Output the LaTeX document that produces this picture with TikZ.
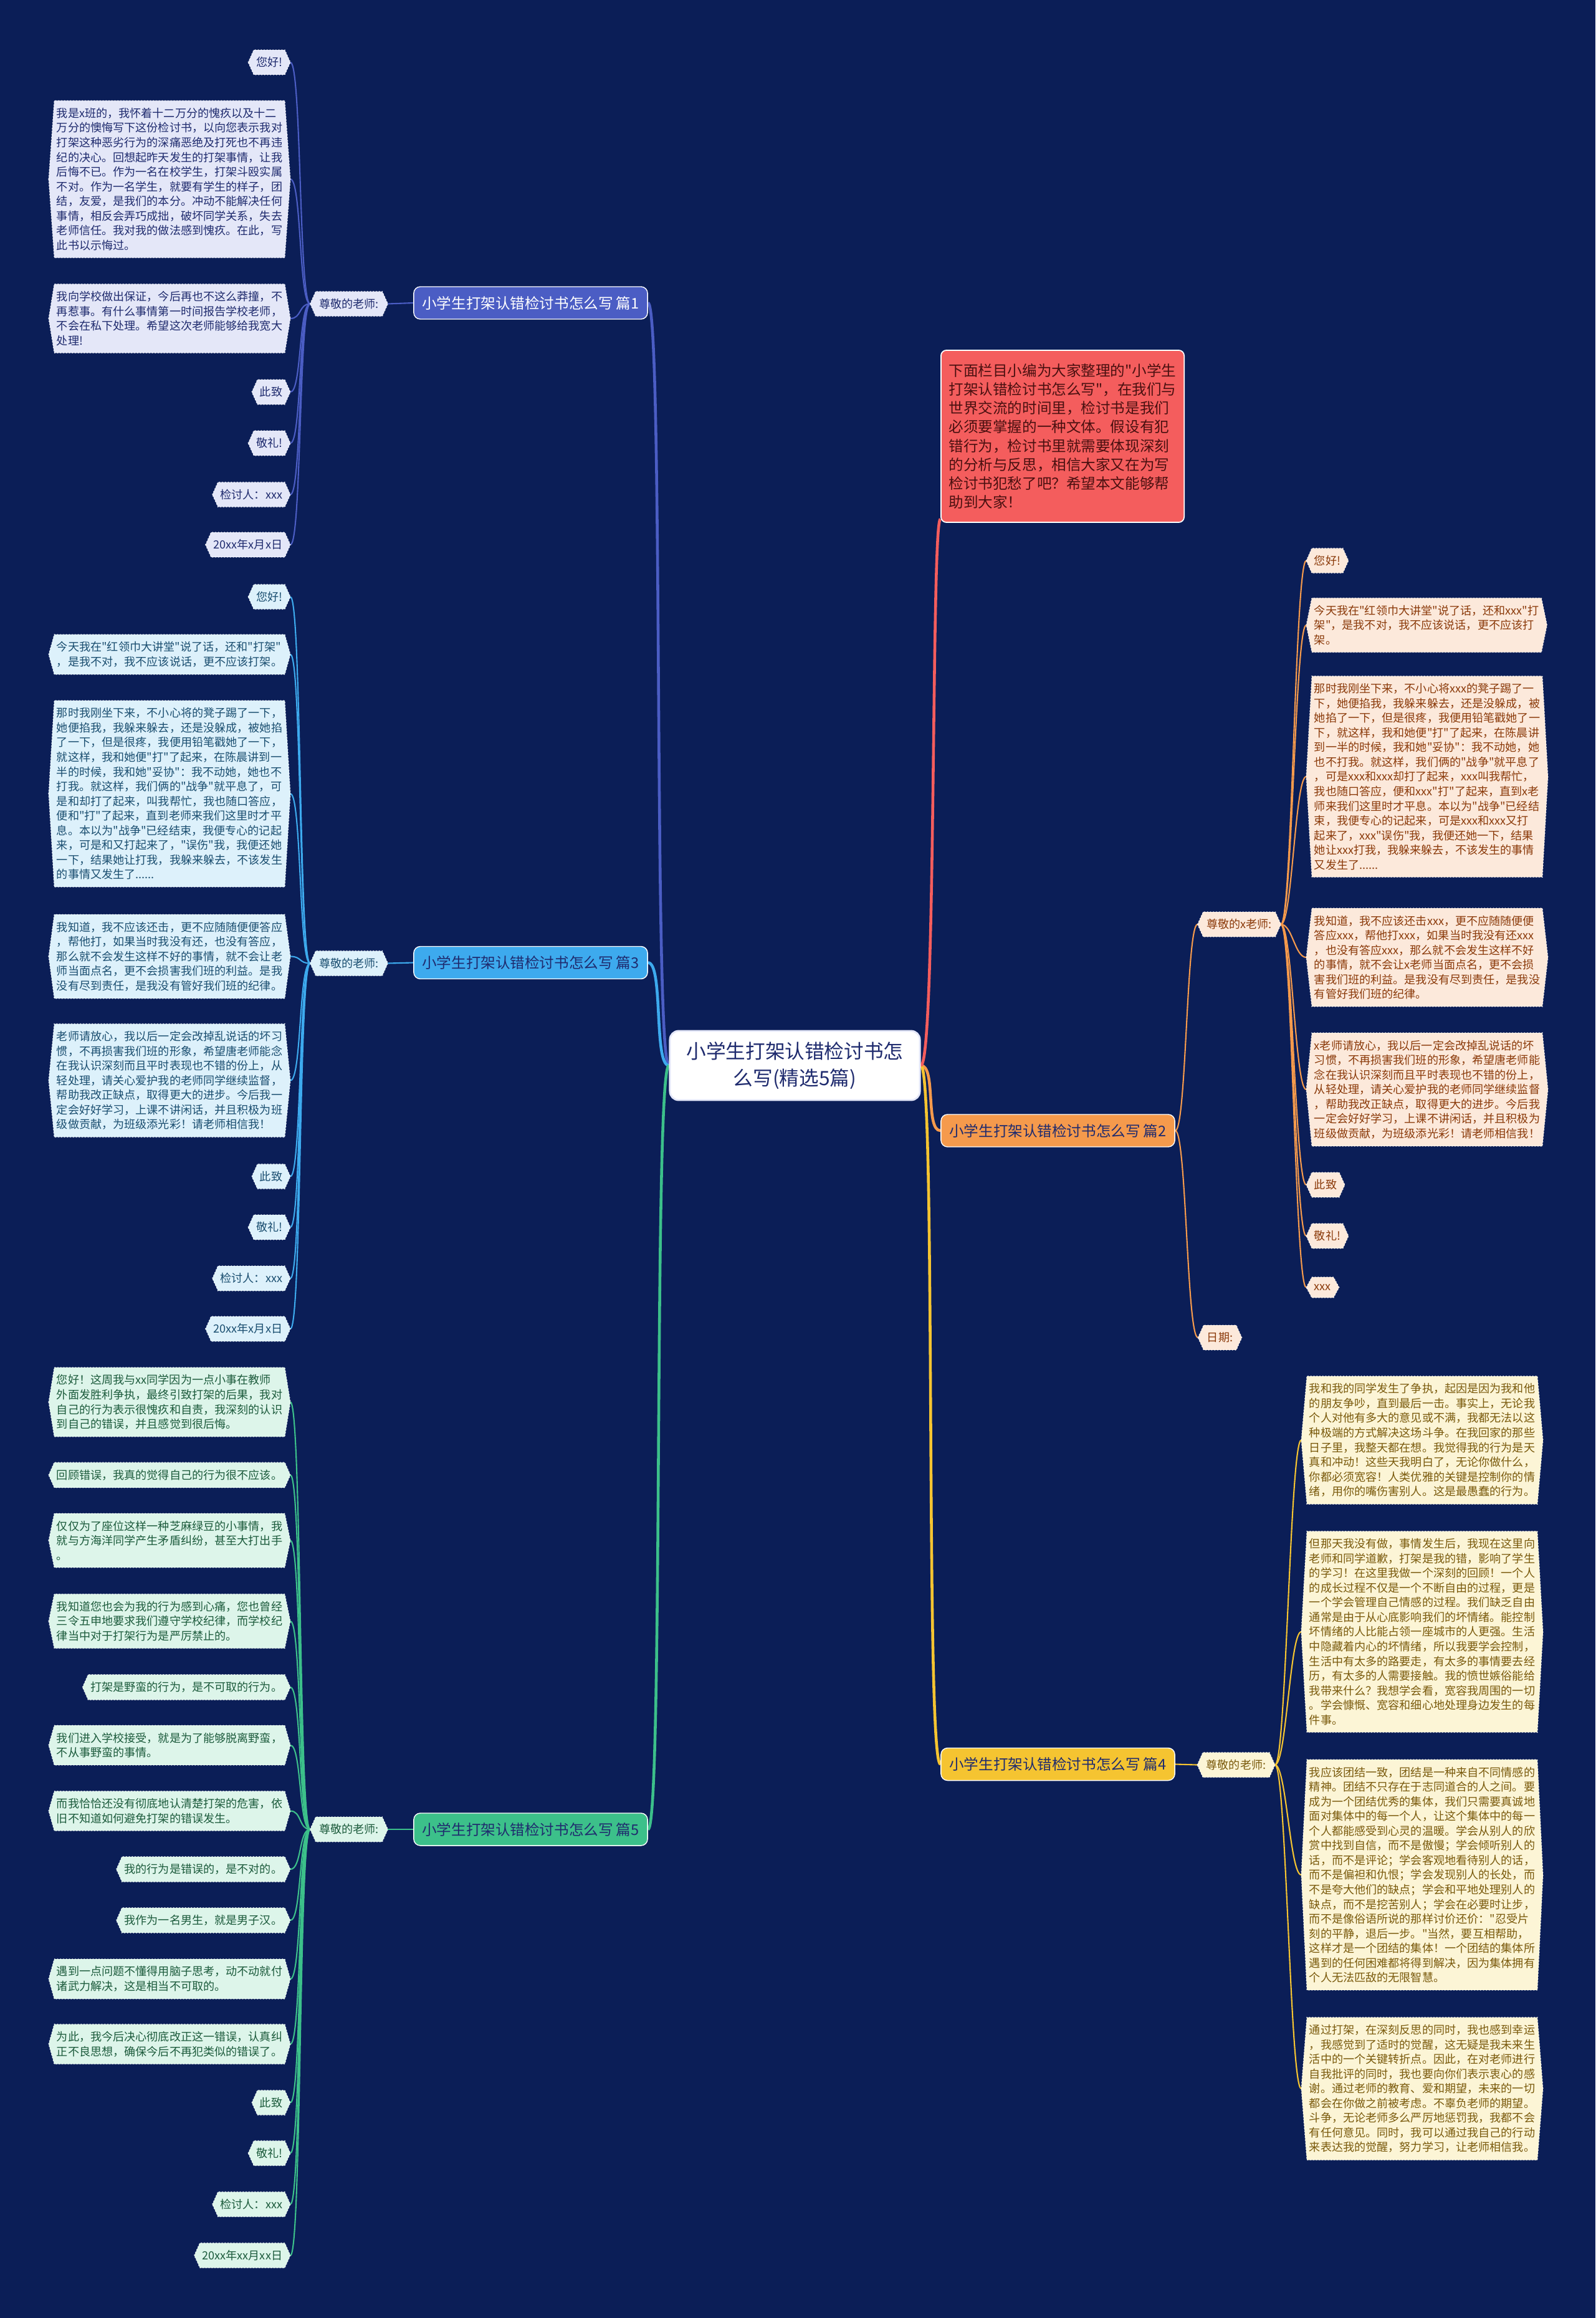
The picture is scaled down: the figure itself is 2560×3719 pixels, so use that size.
\documentclass[tikz,border=0pt]{standalone}
\usepackage{fontspec}
\newfontfamily\cjkfont{Noto Sans CJK SC}

\definecolor{paper}{HTML}{0B1E57}
\definecolor{bar1}{HTML}{4B5DC4}
\definecolor{fill1}{HTML}{E4E7F8}
\definecolor{text1}{HTML}{1F2B6E}
\definecolor{bar3}{HTML}{3DAAEE}
\definecolor{fill3}{HTML}{DDF1FB}
\definecolor{text3}{HTML}{1A4E70}
\definecolor{bar5}{HTML}{3CC08A}
\definecolor{fill5}{HTML}{DDF5EA}
\definecolor{text5}{HTML}{1C5B3C}
\definecolor{bar2}{HTML}{F59A4C}
\definecolor{fill2}{HTML}{FCE9DB}
\definecolor{text2}{HTML}{8B3A0A}
\definecolor{bar4}{HTML}{F5C431}
\definecolor{fill4}{HTML}{FCF5D6}
\definecolor{text4}{HTML}{7A5A0C}
\definecolor{introred}{HTML}{F45D5D}
\definecolor{introink}{HTML}{4A1010}

\pgfdeclarelayer{paper}
\pgfdeclarelayer{edges}
\pgfdeclarelayer{boxes}
\pgfsetlayers{paper,edges,boxes,main}

\tikzset{
  every leaf/.style={inner xsep=0.9pt, inner ysep=3.1pt, align=left,
    font=\cjkfont\fontsize{5.15}{6.7}\selectfont},
  leaf1/.style={every leaf, text=text1},
  leaf3/.style={every leaf, text=text3},
  leaf5/.style={every leaf, text=text5},
  leaf2/.style={every leaf, text=text2},
  leaf4/.style={every leaf, text=text4},
  hex1/.style={fill=fill1, draw=white, densely dotted, line width=0.35pt},
  hex3/.style={fill=fill3, draw=white, densely dotted, line width=0.35pt},
  hex5/.style={fill=fill5, draw=white, densely dotted, line width=0.35pt},
  hex2/.style={fill=fill2, draw=white, densely dotted, line width=0.35pt},
  hex4/.style={fill=fill4, draw=white, densely dotted, line width=0.35pt},
  rootbox/.style={fill=white, draw=fill1, line width=0.8pt, rounded corners=4pt,
    minimum width=4.01cm, minimum height=1.11cm, align=center, text=text1,
    font=\cjkfont\fontsize{9}{12.2}\selectfont},
  introbox/.style={fill=introred, draw=white, line width=0.5pt, rounded corners=2.5pt,
    minimum width=3.9cm, minimum height=2.76cm, align=left, text=introink,
    font=\cjkfont\fontsize{6.7}{8.6}\selectfont},
  pianbox/.style={rounded corners=3pt, draw=white, line width=0.4pt,
    minimum width=3.75cm, minimum height=0.52cm, inner sep=0pt,
    font=\cjkfont\fontsize{6.7}{8}\selectfont},
  trunk/.style={line width=1.3pt},
  twig/.style={line width=0.6pt},
}

\newcommand\hexbox[2]{\path[#2] ([shift={(-9,0)}]#1.west) -- (#1.north west)
  -- (#1.north east) -- ([shift={(9,0)}]#1.east) -- (#1.south east)
  -- (#1.south west) -- cycle;}

\begin{document}
\begin{tikzpicture}[x=0.01cm, y=-0.01cm]
\begin{pgfonlayer}{paper}
\fill[paper] (0,0) rectangle (2560,3719);
\end{pgfonlayer}
\useasboundingbox (0,0) rectangle (2560,3719);

% centre and intro
\node[rootbox] (root) at (1275.5,1709.5) {小学生打架认错检讨书怎\\么写(精选5篇)};
\node[introbox] (intro) at (1705,700) {下面栏目小编为大家整理的"小学生\\
打架认错检讨书怎么写"，在我们与\\
世界交流的时间里，检讨书是我们\\
必须要掌握的一种文体。假设有犯\\
错行为，检讨书里就需要体现深刻\\
的分析与反思，相信大家又在为写\\
检讨书犯愁了吧？希望本文能够帮\\
助到大家！};

% branches
\node[pianbox, fill=bar1, text=white] (pian1) at (851.5,486) {小学生打架认错检讨书怎么写 篇1};
\node[pianbox, fill=bar3, text=text1] (pian3) at (851.5,1544.5) {小学生打架认错检讨书怎么写 篇3};
\node[pianbox, fill=bar5, text=text1] (pian5) at (851.5,2935) {小学生打架认错检讨书怎么写 篇5};
\node[pianbox, fill=bar2, text=text1] (pian2) at (1697.5,1814) {小学生打架认错检讨书怎么写 篇2};
\node[pianbox, fill=bar4, text=text1] (pian4) at (1697.5,2830.5) {小学生打架认错检讨书怎么写 篇4};

\node[leaf1, inner xsep=1.4pt] (lab1) at (560,487.5) {尊敬的老师:};
\node[leaf3, inner xsep=1.4pt] (lab3) at (560,1545.5) {尊敬的老师:};
\node[leaf5, inner xsep=1.4pt] (lab5) at (560,2935) {尊敬的老师:};
\node[leaf2, inner xsep=1.4pt] (lab2) at (1988.5,1483) {尊敬的x老师:};
\node[leaf2, inner xsep=1.4pt] (date2) at (1957.5,2146) {日期:};
\node[leaf4, inner xsep=1.4pt] (lab4) at (1983.5,2831.5) {尊敬的老师:};

% leaves of 篇1
\node[leaf1, anchor=east] (p1-1) at (457,100) {您好!};
\node[leaf1, anchor=east] (p1-2) at (457,287.5) {我是x班的，我怀着十二万分的愧疚以及十二\\
万分的懊悔写下这份检讨书，以向您表示我对\\
打架这种恶劣行为的深痛恶绝及打死也不再违\\
纪的决心。回想起昨天发生的打架事情，让我\\
后悔不已。作为一名在校学生，打架斗殴实属\\
不对。作为一名学生，就要有学生的样子，团\\
结，友爱，是我们的本分。冲动不能解决任何\\
事情，相反会弄巧成拙，破坏同学关系，失去\\
老师信任。我对我的做法感到愧疚。在此，写\\
此书以示悔过。};
\node[leaf1, anchor=east] (p1-3) at (457,511) {我向学校做出保证，今后再也不这么莽撞，不\\
再惹事。有什么事情第一时间报告学校老师，\\
不会在私下处理。希望这次老师能够给我宽大\\
处理!};
\foreach \t/\y [count=\i from 4] in {此致/629, 敬礼!/711, 检讨人：xxx/793.5, 20xx年x月x日/874}
  \node[leaf1, anchor=east] (p1-\i) at (457,\y) {\t};

% leaves of 篇3
\node[leaf3, anchor=east] (p3-1) at (457,957.5) {您好!};
\node[leaf3, anchor=east] (p3-2) at (457,1050) {今天我在"红领巾大讲堂"说了话，还和"打架"\\
，是我不对，我不应该说话，更不应该打架。};
\node[leaf3, anchor=east] (p3-3) at (457,1273.5) {那时我刚坐下来，不小心将的凳子踢了一下，\\
她便掐我，我躲来躲去，还是没躲成，被她掐\\
了一下，但是很疼，我便用铅笔戳她了一下，\\
就这样，我和她便"打"了起来，在陈晨讲到一\\
半的时候，我和她"妥协"：我不动她，她也不\\
打我。就这样，我们俩的"战争"就平息了，可\\
是和却打了起来，叫我帮忙，我也随口答应，\\
便和"打"了起来，直到老师来我们这里时才平\\
息。本以为"战争"已经结束，我便专心的记起\\
来，可是和又打起来了，"误伤"我，我便还她\\
一下，结果她让打我，我躲来躲去，不该发生\\
的事情又发生了......};
\node[leaf3, anchor=east] (p3-4) at (457,1534.5) {我知道，我不应该还击，更不应随随便便答应\\
，帮他打，如果当时我没有还，也没有答应，\\
那么就不会发生这样不好的事情，就不会让老\\
师当面点名，更不会损害我们班的利益。是我\\
没有尽到责任，是我没有管好我们班的纪律。};
\node[leaf3, anchor=east] (p3-5) at (457,1733.5) {老师请放心，我以后一定会改掉乱说话的坏习\\
惯，不再损害我们班的形象，希望唐老师能念\\
在我认识深刻而且平时表现也不错的份上，从\\
轻处理，请关心爱护我的老师同学继续监督，\\
帮助我改正缺点，取得更大的进步。今后我一\\
定会好好学习，上课不讲闲话，并且积极为班\\
级做贡献，为班级添光彩！请老师相信我！};
\foreach \t/\y [count=\i from 6] in {此致/1887.5, 敬礼!/1969, 检讨人：xxx/2051, 20xx年x月x日/2132}
  \node[leaf3, anchor=east] (p3-\i) at (457,\y) {\t};

% leaves of 篇5
\node[leaf5, anchor=east] (p5-1) at (457,2249.5) {您好！这周我与xx同学因为一点小事在教师\\
外面发胜利争执，最终引致打架的后果，我对\\
自己的行为表示很愧疚和自责，我深刻的认识\\
到自己的错误，并且感觉到很后悔。};
\node[leaf5, anchor=east] (p5-2) at (457,2366.5) {回顾错误，我真的觉得自己的行为很不应该。};
\node[leaf5, anchor=east] (p5-3) at (457,2471.5) {仅仅为了座位这样一种芝麻绿豆的小事情，我\\
就与方海洋同学产生矛盾纠纷，甚至大打出手\\
。};
\node[leaf5, anchor=east] (p5-4) at (457,2601) {我知道您也会为我的行为感到心痛，您也曾经\\
三令五申地要求我们遵守学校纪律，而学校纪\\
律当中对于打架行为是严厉禁止的。};
\node[leaf5, anchor=east] (p5-5) at (457,2707) {打架是野蛮的行为，是不可取的行为。};
\node[leaf5, anchor=east] (p5-6) at (457,2800) {我们进入学校接受，就是为了能够脱离野蛮，\\
不从事野蛮的事情。};
\node[leaf5, anchor=east] (p5-7) at (457,2905.5) {而我恰恰还没有彻底地认清楚打架的危害，依\\
旧不知道如何避免打架的错误发生。};
\node[leaf5, anchor=east] (p5-8) at (457,2999) {我的行为是错误的，是不对的。};
\node[leaf5, anchor=east] (p5-9) at (457,3081) {我作为一名男生，就是男子汉。};
\node[leaf5, anchor=east] (p5-10) at (457,3175) {遇到一点问题不懂得用脑子思考，动不动就付\\
诸武力解决，这是相当不可取的。};
\node[leaf5, anchor=east] (p5-11) at (457,3279.5) {为此，我今后决心彻底改正这一错误，认真纠\\
正不良思想，确保今后不再犯类似的错误了。};
\foreach \t/\y [count=\i from 12] in {此致/3373.5, 敬礼!/3454.5, 检讨人：xxx/3536.5, 20xx年xx月xx日/3618.5}
  \node[leaf5, anchor=east] (p5-\i) at (457,\y) {\t};

% leaves of 篇2
\node[leaf2, anchor=west] (p2-1) at (2105,899.5) {您好!};
\node[leaf2, anchor=west] (p2-2) at (2105,1003) {今天我在"红领巾大讲堂"说了话，还和xxx"打\\
架"，是我不对，我不应该说话，更不应该打\\
架。};
\node[leaf2, anchor=west] (p2-3) at (2105,1246) {那时我刚坐下来，不小心将xxx的凳子踢了一\\
下，她便掐我，我躲来躲去，还是没躲成，被\\
她掐了一下，但是很疼，我便用铅笔戳她了一\\
下，就这样，我和她便"打"了起来，在陈晨讲\\
到一半的时候，我和她"妥协"：我不动她，她\\
也不打我。就这样，我们俩的"战争"就平息了\\
，可是xxx和xxx却打了起来，xxx叫我帮忙，\\
我也随口答应，便和xxx"打"了起来，直到x老\\
师来我们这里时才平息。本以为"战争"已经结\\
束，我便专心的记起来，可是xxx和xxx又打\\
起来了，xxx"误伤"我，我便还她一下，结果\\
她让xxx打我，我躲来躲去，不该发生的事情\\
又发生了......};
\node[leaf2, anchor=west] (p2-4) at (2105,1536) {我知道，我不应该还击xxx，更不应随随便便\\
答应xxx，帮他打xxx，如果当时我没有还xxx\\
，也没有答应xxx，那么就不会发生这样不好\\
的事情，就不会让x老师当面点名，更不会损\\
害我们班的利益。是我没有尽到责任，是我没\\
有管好我们班的纪律。};
\node[leaf2, anchor=west] (p2-5) at (2105,1748) {x老师请放心，我以后一定会改掉乱说话的坏\\
习惯，不再损害我们班的形象，希望唐老师能\\
念在我认识深刻而且平时表现也不错的份上，\\
从轻处理，请关心爱护我的老师同学继续监督\\
，帮助我改正缺点，取得更大的进步。今后我\\
一定会好好学习，上课不讲闲话，并且积极为\\
班级做贡献，为班级添光彩！请老师相信我！};
\foreach \t/\y [count=\i from 6] in {此致/1901, 敬礼!/1983, xxx/2065.5}
  \node[leaf2, anchor=west] (p2-\i) at (2105,\y) {\t};

% leaves of 篇4
\node[leaf4, anchor=west] (p4-1) at (2097,2310.5) {我和我的同学发生了争执，起因是因为我和他\\
的朋友争吵，直到最后一击。事实上，无论我\\
个人对他有多大的意见或不满，我都无法以这\\
种极端的方式解决这场斗争。在我回家的那些\\
日子里，我整天都在想。我觉得我的行为是天\\
真和冲动！这些天我明白了，无论你做什么，\\
你都必须宽容！人类优雅的关键是控制你的情\\
绪，用你的嘴伤害别人。这是最愚蠢的行为。};
\node[leaf4, anchor=west] (p4-2) at (2097,2618) {但那天我没有做，事情发生后，我现在这里向\\
老师和同学道歉，打架是我的错，影响了学生\\
的学习！在这里我做一个深刻的回顾！一个人\\
的成长过程不仅是一个不断自由的过程，更是\\
一个学会管理自己情感的过程。我们缺乏自由\\
通常是由于从心底影响我们的坏情绪。能控制\\
坏情绪的人比能占领一座城市的人更强。生活\\
中隐藏着内心的坏情绪，所以我要学会控制，\\
生活中有太多的路要走，有太多的事情要去经\\
历，有太多的人需要接触。我的愤世嫉俗能给\\
我带来什么？我想学会看，宽容我周围的一切\\
。学会慷慨、宽容和细心地处理身边发生的每\\
件事。};
\node[leaf4, anchor=west] (p4-3) at (2097,3008) {我应该团结一致，团结是一种来自不同情感的\\
精神。团结不只存在于志同道合的人之间。要\\
成为一个团结优秀的集体，我们只需要真诚地\\
面对集体中的每一个人，让这个集体中的每一\\
个人都能感受到心灵的温暖。学会从别人的欣\\
赏中找到自信，而不是傲慢；学会倾听别人的\\
话，而不是评论；学会客观地看待别人的话，\\
而不是偏袒和仇恨；学会发现别人的长处，而\\
不是夸大他们的缺点；学会和平地处理别人的\\
缺点，而不是挖苦别人；学会在必要时让步，\\
而不是像俗语所说的那样讨价还价："忍受片\\
刻的平静，退后一步。"当然，要互相帮助，\\
这样才是一个团结的集体！一个团结的集体所\\
遇到的任何困难都将得到解决，因为集体拥有\\
个人无法匹敌的无限智慧。};
\node[leaf4, anchor=west] (p4-4) at (2097,3351) {通过打架，在深刻反思的同时，我也感到幸运\\
，我感觉到了适时的觉醒，这无疑是我未来生\\
活中的一个关键转折点。因此，在对老师进行\\
自我批评的同时，我也要向你们表示衷心的感\\
谢。通过老师的教育、爱和期望，未来的一切\\
都会在你做之前被考虑。不辜负老师的期望。\\
斗争，无论老师多么严厉地惩罚我，我都不会\\
有任何意见。同时，我可以通过我自己的行动\\
来表达我的觉醒，努力学习，让老师相信我。};

% boxes behind the texts
\begin{pgfonlayer}{boxes}
\foreach \i in {1,...,7} \hexbox{p1-\i}{hex1};
\foreach \i in {1,...,9} \hexbox{p3-\i}{hex3};
\foreach \i in {1,...,15} \hexbox{p5-\i}{hex5};
\foreach \i in {1,...,8} \hexbox{p2-\i}{hex2};
\foreach \i in {1,...,4} \hexbox{p4-\i}{hex4};
\hexbox{lab1}{hex1}
\hexbox{lab3}{hex3}
\hexbox{lab5}{hex5}
\hexbox{lab2}{hex2}
\hexbox{date2}{hex2}
\hexbox{lab4}{hex4}
\end{pgfonlayer}

% connectors
\begin{pgfonlayer}{edges}
\foreach \n/\c in {pian1/bar1, pian3/bar3, pian5/bar5}
  \draw[trunk, \c] (root.west) .. controls +(-25,0) and +(25,0) .. (\n.east);
\foreach \n/\c in {pian2/bar2, pian4/bar4}
  \draw[trunk, \c] (root.east) .. controls +(25,0) and +(-25,0) .. (\n.west);
\draw[trunk, introred] (root.east) .. controls +(25,0) and +(-15,0) .. ([shift={(0,-6)}]intro.south west);

\draw[twig, bar1] (pian1.west) -- ([shift={(9,0)}]lab1.east);
\draw[twig, bar3] (pian3.west) -- ([shift={(9,0)}]lab3.east);
\draw[twig, bar5] (pian5.west) -- ([shift={(9,0)}]lab5.east);
\draw[twig, bar2] (pian2.east) .. controls +(18,0) and +(-18,0) .. ([shift={(-9,0)}]lab2.west);
\draw[twig, bar2] (pian2.east) .. controls +(18,0) and +(-18,0) .. ([shift={(-9,0)}]date2.west);
\draw[twig, bar4] (pian4.east) -- ([shift={(-9,0)}]lab4.west);

\foreach \i in {1,...,7}
  \draw[twig, bar1] ([shift={(-9,0)}]lab1.west) .. controls +(-18,0) and +(18,0) .. ([shift={(9,0)}]p1-\i.east);
\foreach \i in {1,...,9}
  \draw[twig, bar3] ([shift={(-9,0)}]lab3.west) .. controls +(-18,0) and +(18,0) .. ([shift={(9,0)}]p3-\i.east);
\foreach \i in {1,...,15}
  \draw[twig, bar5] ([shift={(-9,0)}]lab5.west) .. controls +(-18,0) and +(18,0) .. ([shift={(9,0)}]p5-\i.east);
\foreach \i in {1,...,8}
  \draw[twig, bar2] ([shift={(9,0)}]lab2.east) .. controls +(18,0) and +(-18,0) .. ([shift={(-9,0)}]p2-\i.west);
\foreach \i in {1,...,4}
  \draw[twig, bar4] ([shift={(9,0)}]lab4.east) .. controls +(18,0) and +(-18,0) .. ([shift={(-9,0)}]p4-\i.west);
\end{pgfonlayer}
\end{tikzpicture}
\end{document}
